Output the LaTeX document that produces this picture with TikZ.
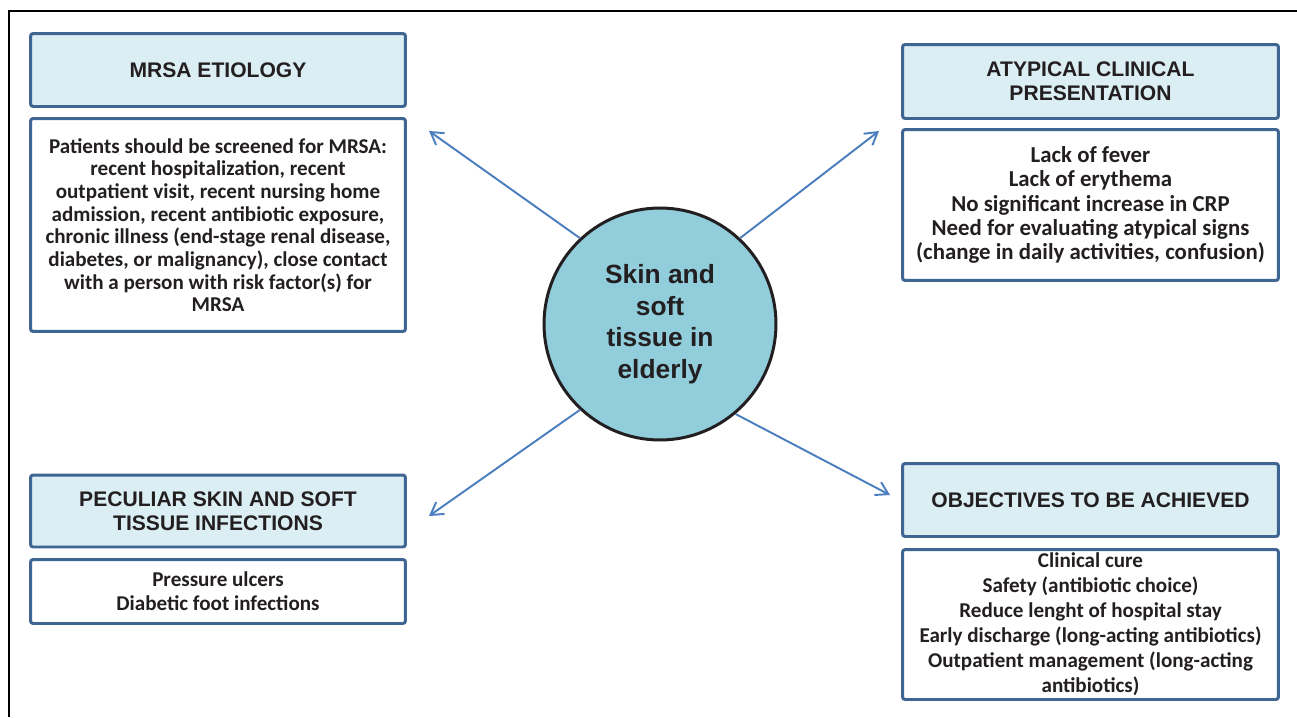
\documentclass[tikz,border=0pt]{standalone}
\usepackage{fontspec}
\setmainfont{Carlito}
\newfontfamily\headfont{Liberation Sans}
\usepackage{xcolor}
\usepackage{tikz}
\usetikzlibrary{arrows.meta, positioning, calc}
\definecolor{boxblue}{HTML}{3F6592}
\definecolor{headfill}{HTML}{DAEEF3}
\definecolor{hubfill}{HTML}{92CDDC}
\definecolor{arrowblue}{HTML}{4A7EBF}
\definecolor{inkdark}{HTML}{231F20}

\begin{document}
\begin{tikzpicture}[
  x=0.02cm, y=-0.02cm,
  text=inkdark,
  >={Straight Barb[length=2.4mm, width=2.9mm]},
  head/.style={draw=boxblue, line width=1.7pt, fill=headfill, rounded corners=1.5pt,
               align=center, minimum width=7.5cm, minimum height=1.46cm,
               font=\headfont\fontsize{12}{13.8}\selectfont\bfseries},
  body/.style={draw=boxblue, line width=1.7pt, fill=white, rounded corners=1.5pt,
               align=center, minimum width=7.5cm, inner sep=2pt,
               font=\fontsize{12}{14.2}\selectfont\bfseries},
  hubstyle/.style={circle, draw=inkdark, line width=1.7pt, fill=hubfill,
                   minimum size=4.64cm, align=center,
                   font=\headfont\fontsize{15}{18}\selectfont\bfseries},
  spoke/.style={->, line width=1.1pt, arrowblue},
  frameline/.style={line width=0.9pt, black}
]
\useasboundingbox (0,0) rectangle (1297,717);

% Outer frame (top and left only)
\draw[frameline] (9,717) -- (9,11) -- (1297,11);

% Central topic
\node[hubstyle] (hub) at (660,324) {Skin and\\ soft\\ tissue in\\ elderly};

% Top left: etiology
\node[head] (etio) at (218,70) {MRSA ETIOLOGY};
\node[body, minimum height=4.26cm, font=\fontsize{12}{12.9}\selectfont\bfseries] (etiotext) at (218,225)
  {Patients should be screened for MRSA:\\ recent hospitalization, recent\\
   outpatient visit, recent nursing home\\ admission, recent antibiotic exposure,\\
   chronic illness (end-stage renal disease,\\ diabetes, or malignancy), close contact\\
   with a person with risk factor(s) for\\ MRSA};

% Top right: presentation
\node[head, minimum width=7.52cm, minimum height=1.48cm] (atyp) at (1090.5,81.5) {ATYPICAL CLINICAL\\ PRESENTATION};
\node[body, minimum width=7.52cm, minimum height=3.02cm, font=\fontsize{13}{13.8}\selectfont\bfseries] (atyptext) at (1090.5,205)
  {Lack of fever\\ Lack of erythema\\ No significant increase in CRP\\
   Need for evaluating atypical signs\\ (change in daily activities, confusion)};

% Bottom left: infections
\node[head, minimum height=1.44cm] (pecul) at (218,511) {PECULIAR SKIN AND SOFT\\ TISSUE INFECTIONS};
\node[body, minimum height=1.28cm, font=\fontsize{12}{13.6}\selectfont\bfseries] (pecultext) at (218,591.5)
  {Pressure ulcers\\ Diabetic foot infections};

% Bottom right: objectives
\node[head, minimum width=7.52cm] (obj) at (1090.5,500) {OBJECTIVES TO BE ACHIEVED};
\node[body, minimum width=7.52cm, minimum height=3.0cm] (objtext) at (1090.5,624.5)
  {Clinical cure\\ Safety (antibiotic choice)\\ Reduce lenght of hospital stay\\
   Early discharge (long-acting antibiotics)\\ Outpatient management (long-acting\\ antibiotics)};

% Arrow tips
\coordinate (tipEtio) at (429,131);
\coordinate (tipAtyp) at (879,131);
\coordinate (tipPecul) at (429,516);
\coordinate (tipObj) at (890,495);

% Spokes
\draw[spoke] (hub.133) -- (tipEtio);
\draw[spoke] (hub.47) -- (tipAtyp);
\draw[spoke] (hub.227) -- (tipPecul);
\draw[spoke] (hub.310) -- (tipObj);

\end{tikzpicture}
\end{document}
